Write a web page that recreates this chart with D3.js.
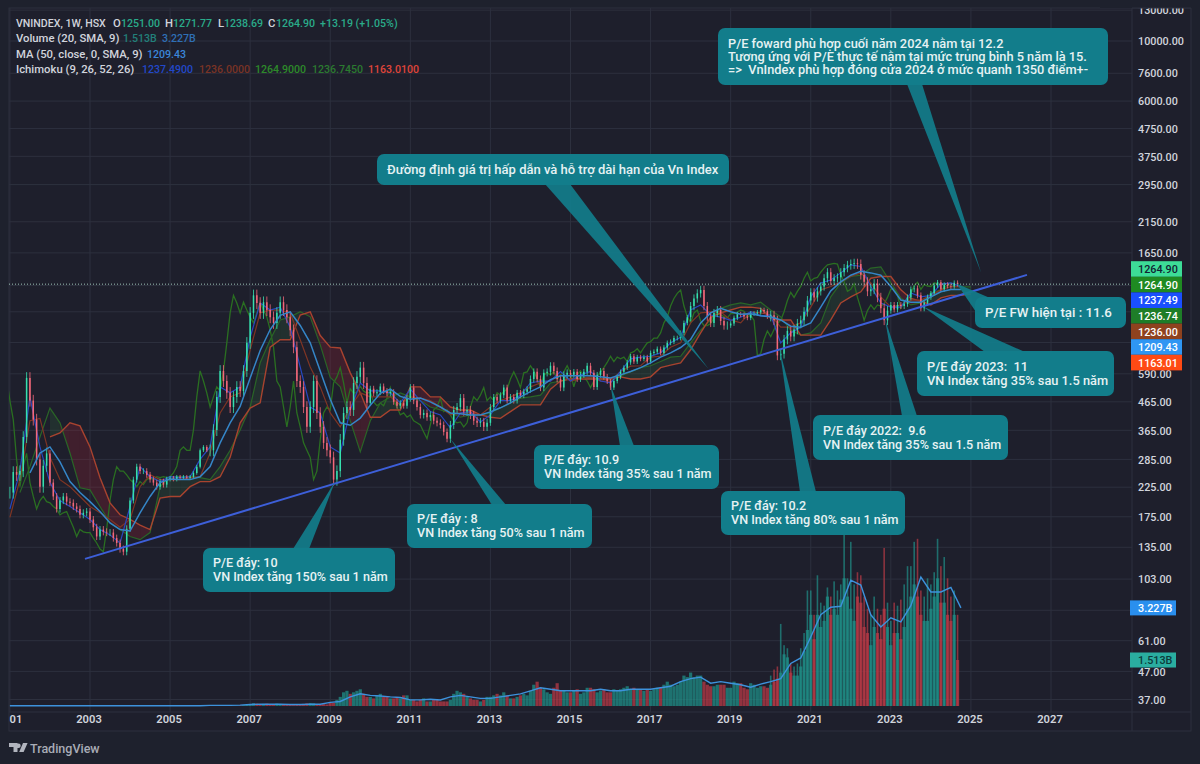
<!DOCTYPE html>
<html><head><meta charset="utf-8">
<script src="https://cdn.jsdelivr.net/npm/d3@7"></script>
<style>
html,body{margin:0;padding:0;background:#1e212d;overflow:hidden}
text{font-family:Roboto,"Noto Sans",sans-serif}
</style></head>
<body><svg id="c" width="1200" height="764"></svg>
<script>
// ---- data ----
const priceTicks=[13000,10000,7600,6000,4750,3750,2950,2150,1650,1250,1000,770,590,465,365,285,225,175,135,103,79,61,47,37];
const coveredTicks=[1250,1000,770,79]; // gridlines only: their labels sit behind the price tags
const yearTicks=[2001,2003,2005,2007,2009,2011,2013,2015,2017,2019,2021,2023,2025,2027];
const closeStart=2001;   // monthly closes from Jan 2001
const closes=[
215,256,250,258,345,570,470,400,285,226,270,300,
234,208,187,201,208,199,197,191,187,178,181,183,
171,160,148,157,154,153,153,146,140,133,130,158,
201,240,268,258,258,250,240,234,226,236,230,240,
244,240,246,244,246,244,246,254,268,308,317,308,
308,366,485,605,555,502,445,485,528,510,605,768,
991,1150,1078,991,1085,1015,955,910,991,1085,1015,955,
855,740,555,528,445,376,445,555,423,376,328,308,
290,240,258,337,423,445,434,546,575,622,546,461,
520,500,505,530,510,500,505,465,450,460,450,480,
525,470,445,416,423,408,416,396,389,382,360,340,
382,434,445,480,428,434,416,396,389,392,376,389,
445,485,470,492,525,470,485,470,502,492,507,518,
565,600,565,525,595,600,632,605,565,525,585,595,
585,600,565,585,600,632,595,528,585,605,575,555,
525,555,575,600,622,650,685,655,680,670,680,655,
705,712,730,705,738,768,775,800,800,836,910,955,
1050,1120,1170,1204,1050,960,910,990,1015,925,890,890,
905,950,980,975,960,950,985,985,995,1015,1005,960,
970,930,690,700,790,850,810,860,905,930,1000,1100,
1180,1130,1190,1240,1330,1400,1300,1330,1340,1400,1450,1490,
1500,1510,1500,1370,1290,1190,1210,1270,1130,1030,930,1010,
1060,1020,1060,1050,1070,1130,1210,1220,1150,1030,1080,1130,
1170,1250,1285,1210,1260,1245,1240,1280,1264.9];
// typical wick beyond the candle body, per year, as a share of price
const yearlyWick=[.05,.03,.03,.025,.015,.05,.05,.05,.05,.025,.03,.035,.025,.03,.025,.02,.02,.035,.02,.04,.035,.04,.025,.02];
const lagYears=0.5;
const quarterStart=2001; // all quarterly series share this origin
const conversion=[
187,258,485,317,234,201,191,181,171,157,150,140,191,268,246,236,246,244,246,285,317,528,502,528,805,1078,1015,1040,877,625,445,423,317,301,434,546,510,510,502,461,
518,470,428,416,373,423,428,392,416,470,470,492,546,555,555,602,555,585,602,555,546,602,670,680,685,705,768,805,1015,1060,973,955,930,955,
1000,966,973,768,836,877,1135,1278,1310,1392,1490,1470,1240,1078,1040,1040,1174,1135,1150,1265,1278,1237.49];
const base=[
174,240,396,404,290,240,226,208,191,181,171,160,171,226,250,240,240,240,244,246,301,423,485,502,724,991,1015,1015,991,788,625,528,423,376,445,502,485,485,485,453,
485,480,470,445,416,423,423,416,445,470,485,502,528,546,555,585,555,565,575,555,555,602,630,632,680,685,740,768,910,991,1000,1000,933,910,
1000,991,973,877,877,910,1040,1205,1240,1290,1350,1392,1278,1135,1040,1060,1105,1105,1150,1205,1240,1236];
const leadAStart=2001.25;
const leadA=[
215,268,345,441,389,301,224,220,191,166,157,148,144,153,226,246,246,246,244,240,268,308,366,445,648,788,933,958,1000,958,755,572,528,396,304,396,461,485,502,
485,470,445,434,423,408,416,416,423,442,461,480,485,492,546,555,565,570,570,565,565,580,600,622,632,655,680,685,768,855,933,1030,1060,1078,
1060,1085,1015,958,855,820,836,910,1135,1278,1350,1365,1450,1465,1278,1125,1060,1078,1174,1205,1278,1240,1236.745];
const leadBStart=2002;
const leadB=[
345,357,389,379,317,244,197,178,171,163,157,205,208,208,226,236,236,246,290,389,441,461,740,788,788,973,1000,817,740,735,595,502,408,408,434,434,
528,528,485,485,445,434,434,416,408,404,428,453,453,453,518,555,565,565,565,565,565,575,565,565,575,622,635,648,724,836,955,991,1015,1040,
1040,1030,945,933,933,820,820,820,933,1078,1135,1185,1330,1350,1350,1205,1120,1095,1060,1125,1150,1150,1163.01];
const maStart=2001.5;
const ma50=[
254,301,317,279,236,215,199,183,166,157,155,181,208,234,241,240,240,246,268,328,389,447,570,720,860,970,1000,890,768,605,475,389,381,405,452,500,518,487,
475,480,465,445,423,420,416,416,427,442,461,485,507,528,562,580,580,580,580,575,570,585,602,622,648,680,705,738,790,910,991,1030,1000,980,
983,966,958,933,885,877,910,1040,1195,1290,1365,1410,1392,1365,1240,1105,1085,1085,1135,1185,1209,1209.43];
const volumeMonthly=[
.003,.003,.003,.003,.004,.005,.004,.003,.003,.003,.003,.003,
.003,.003,.003,.003,.003,.003,.003,.003,.003,.003,.003,.003,
.003,.003,.003,.003,.003,.003,.003,.003,.003,.003,.003,.003,
.004,.004,.004,.004,.004,.004,.004,.004,.004,.004,.004,.004,
.005,.005,.005,.005,.005,.005,.005,.006,.006,.006,.006,.006,
.01,.015,.02,.03,.02,.015,.01,.01,.015,.02,.03,.04,
.06,.09,.08,.06,.07,.08,.06,.05,.08,.07,.06,.05,
.04,.03,.04,.05,.07,.09,.1,.09,.06,.05,.06,.05,
.1,.1,.2,.3,.45,.5,.4,.45,.5,.55,.4,.3,
.3,.25,.35,.4,.3,.3,.25,.25,.3,.25,.35,.35,
.2,.2,.15,.2,.25,.15,.15,.2,.2,.15,.15,.15,
.2,.4,.5,.45,.4,.3,.25,.2,.2,.15,.2,.3,
.3,.35,.4,.35,.45,.35,.25,.25,.3,.35,.4,.35,
.5,.7,.8,.6,.55,.45,.4,.6,.75,.5,.5,.45,
.45,.5,.55,.4,.45,.6,.6,.55,.45,.5,.55,.45,
.45,.55,.5,.55,.6,.65,.55,.6,.55,.55,.5,.55,
.5,.55,.6,.6,.7,.8,.7,.65,.7,.8,1.0,.95,
1.1,.95,1.0,1.0,.8,.7,.65,.65,.7,.7,.7,.6,
.6,.8,.75,.75,.6,.55,.75,.7,.6,.65,.65,.6,
.7,.8,.9,1.1,1.7,1.6,1.1,1.0,1.0,1.3,1.8,2.5,
3.0,2.2,3.0,2.6,2.8,3.6,3.0,3.2,3.0,3.5,4.2,3.6,
3.2,2.8,3.6,3.4,2.6,2.4,2.0,2.6,2.4,2.2,3.2,2.6,
2.0,2.4,2.4,2.2,2.6,3.2,3.6,4.0,3.6,3.0,2.8,2.8,
3.2,3.6,4.2,3.4,3.4,3.0,2.8,3.0,1.513];
const volumePeakStart=2020;
const volumePeak=[
1.0,1.2,1.3,2.7,2.0,1.9,1.4,1.3,1.4,1.9,2.4,3.8,
3.8,3.0,4.3,3.4,3.3,3.9,3.6,4.1,3.8,4.0,5.7,4.2,
5.4,4.0,4.4,4.3,3.6,3.2,3.0,3.6,3.2,3.0,5.2,3.4,
2.8,3.4,3.3,3.5,4.0,4.6,4.6,5.4,5.5,3.8,3.6,4.2,
4.0,4.4,5.5,4.6,4.9,4.2,3.6,3.8,3.0];
const volumeMA=[
.01,.01,.01,.01,.01,.01,.01,.01,.01,.01,.01,.01,.01,.01,.01,.01,.01,.01,.01,.01,.02,.02,.02,.03,
.05,.06,.06,.06,.05,.05,.06,.06,.12,.15,.3,.4,.35,.33,.3,.28,
.2,.2,.22,.2,.3,.35,.3,.25,.25,.3,.35,.4,.5,.6,.55,.5,.5,.5,.5,.55,.5,.5,.55,.55,.55,.6,.65,.8,.9,.95,.75,.8,
.75,.7,.62,.72,.8,.9,1.4,1.58,2.27,3.0,3.25,3.28,4.14,3.98,3.0,2.6,2.9,2.77,3.3,4.24,3.75,3.75,3.9,3.227];
const trendYears=[2002.875,2026.4];
const trendValues=[122.3,1368.5];
const lastClose=1264.9;
const priceTagLabels=["1264.90","1264.90","1237.49","1236.74","1236.00","1209.43","1163.01"];
const volumeTags=[{v:3.227,label:"3.227B"},{v:1.513,label:"1.513B"}];
const callouts=[
 {tipY:2009.12,tipV:236,fs:12.6,lines:["P/E đáy: 10","VN Index tăng 150% sau 1 năm"],box:[203,548,192,44],base:[[293,549],[309,549]]},
 {tipY:2012.0,tipV:340,fs:12.6,lines:["P/E đáy : 8","VN Index tăng 50% sau 1 năm"],box:[407,504,185,44],base:[[492,505],[506,505]]},
 {tipY:2016.0,tipV:535,fs:12.6,lines:["P/E đáy: 10.9","VN Index tăng 35% sau 1 năm"],box:[534,445,185,44],base:[[620,446],[634,446]]},
 {tipY:2020.22,tipV:730,fs:12.6,lines:["P/E đáy: 10.2","VN Index tăng 80% sau 1 năm"],box:[721,491,184,44],base:[[800,492],[816,492]]},
 {tipY:2022.85,tipV:945,fs:12.6,lines:["P/E đáy 2022:  9.6","VN Index tăng 35% sau 1.5 năm"],box:[813,415,195,45],base:[[902,416],[917,416]]},
 {tipY:2023.8,tipV:1045,fs:12.8,lines:["P/E đáy 2023:  11","VN Index tăng 35% sau 1.5 năm"],box:[917,351,197,45],base:[[985,352],[1025,352]]},
 {tipY:2024.65,tipV:1270,fs:13.3,lines:["P/E FW hiện tại : 11.6"],box:[975,297,151,31],base:[[976,312],[990,298]]},
 {tipY:2018.45,tipV:615,fs:13,lines:["Đường định giá trị hấp dẫn và hỗ trợ dài hạn của Vn Index"],box:[377,154,352,31],base:[[545,184],[570,184]]},
 {tipY:2025.25,tipV:1400,fs:12.8,lines:["P/E foward phù hợp cuối năm 2024 nằm tại 12.2","Tương ứng với P/E thực tế nằm tại mức trung bình 5 năm là 15.","=>  VnIndex phù hợp đóng cửa 2024 ở mức quanh 1350 điểm+-"],box:[718,28,390,57],base:[[907,84],[922,84]]}
];
// ---- scales ----
const x=d3.scaleLinear().domain([2003,2027]).range([90,1051]);
const y=d3.scaleLog().domain([37,10000]).range([699.5,41]);
const vol=d3.scaleLinear().domain([0,5]).range([706,554]);
const svg=d3.select("#c");
const BG="#1e1f2c",GRID="#2d303e",TXT="#d1d4dc";
svg.append("rect").attr("width",1200).attr("height",764).attr("fill","#1e212d");
svg.append("rect").attr("x",9).attr("y",8).attr("width",1182).attr("height",723).attr("fill",BG).attr("stroke",GRID);
svg.append("line").attr("x1",1132).attr("x2",1132).attr("y1",8).attr("y2",731).attr("stroke",GRID);
svg.append("line").attr("x1",9).attr("x2",1191).attr("y1",712).attr("y2",712).attr("stroke",GRID);
svg.append("clipPath").attr("id","pane").append("rect").attr("x",9).attr("y",8).attr("width",1123).attr("height",704);
// grid
const g=svg.append("g");
g.selectAll(".h").data(priceTicks).join("line").attr("x1",9).attr("x2",1132).attr("y1",d=>y(d)).attr("y2",d=>y(d)).attr("stroke",GRID);
g.selectAll(".v").data(yearTicks).join("line").attr("x1",d=>x(d)).attr("x2",d=>x(d)).attr("y1",8).attr("y2",712).attr("stroke",GRID);
const pane=svg.append("g").attr("clip-path","url(#pane)");
const mT=i=>closeStart+i/12;
const qT=(s,i)=>s+i*0.25;
// volume
const up=i=>i===0||closes[i]>=closes[i-1];
const volCol=i=>up(i)?"#1f8f87":"#b83a46";
pane.append("g").selectAll("rect").data(volumePeak).join("rect")
 .attr("x",(d,i)=>x(volumePeakStart+i/12)-.8).attr("width",1.6)
 .attr("y",d=>vol(d)).attr("height",d=>vol(0)-vol(d))
 .attr("fill",(d,i)=>volCol(Math.round((volumePeakStart-closeStart)*12)+i)).attr("opacity",.7);
pane.append("g").selectAll("rect").data(volumeMonthly).join("rect")
 .attr("x",(d,i)=>x(mT(i))-1.6).attr("width",3.2)
 .attr("y",d=>vol(d)).attr("height",d=>vol(0)-vol(d))
 .attr("fill",(d,i)=>volCol(i)).attr("opacity",.75);
// cloud
const area2=d3.area().x(d=>x(d.t)).y0(d=>y(d.a)).y1(d=>y(d.b));
const cloud=[];
leadB.forEach((b,i)=>{const t=qT(leadBStart,i),ia=Math.round((t-leadAStart)/.25);if(ia>=0&&ia<leadA.length)cloud.push({t,a:leadA[ia],b});});
for(let i=0;i<cloud.length-1;i++){
 const p=cloud[i],q=cloud[i+1];
 pane.append("path").attr("d",area2([p,q])).attr("fill",(p.a+q.a)>=(p.b+q.b)?"rgba(60,150,70,.15)":"rgba(200,35,50,.2)");
}
const line=(ax,ay)=>d3.line().x(ax).y(ay);
const drawQ=(arr,start,col,w,op)=>pane.append("path").datum(arr)
 .attr("d",line((d,i)=>x(qT(start,i)),d=>y(d))).attr("fill","none").attr("stroke",col).attr("stroke-width",w).attr("opacity",op||1);
// lagging span: the closes drawn half a year back
pane.append("path").datum(closes).attr("d",line((d,i)=>x(mT(i)-lagYears),d=>y(d)))
 .attr("fill","none").attr("stroke","#2a6f21").attr("stroke-width",1.3);
drawQ(leadA,leadAStart,"#2a6527",1.2);
drawQ(leadB,leadBStart,"#a8432f",1.4);
drawQ(base,quarterStart,"#7f3524",1.2);
drawQ(conversion,quarterStart,"#2747c0",1.2);
// candles: a wick and a body
const wickOf=i=>yearlyWick[Math.floor(i/12)];
const candles=pane.append("g");
candles.selectAll("line.w").data(closes).join("line").attr("class","w")
 .attr("x1",(d,i)=>x(mT(i))).attr("x2",(d,i)=>x(mT(i)))
 .attr("y1",(d,i)=>y(Math.max(d,i?closes[i-1]:d)*(1+wickOf(i)))).attr("y2",(d,i)=>y(Math.min(d,i?closes[i-1]:d)*(1-wickOf(i))))
 .attr("stroke",(d,i)=>up(i)?"#35e0ae":"#f4687a").attr("stroke-width",.8);
candles.selectAll("line.b").data(closes).join("line").attr("class","b")
 .attr("x1",(d,i)=>x(mT(i))).attr("x2",(d,i)=>x(mT(i)))
 .attr("y1",(d,i)=>y(i?closes[i-1]:d)).attr("y2",d=>y(d))
 .attr("stroke",(d,i)=>up(i)?"#35e0ae":"#f4687a").attr("stroke-width",1.5);
drawQ(ma50,maStart,"#3586c8",1.5);
// volume average, on the volume scale
pane.append("path").datum(volumeMA).attr("d",line((d,i)=>x(qT(quarterStart,i)),d=>vol(d)))
 .attr("fill","none").attr("stroke","#3d92dc").attr("stroke-width",1.4);
// last price
pane.append("line").attr("x1",9).attr("x2",1132).attr("y1",y(lastClose)).attr("y2",y(lastClose))
 .attr("stroke","#9fc4b8").attr("stroke-dasharray","1 2");
// trend line
pane.append("path").datum(trendYears.map((t,i)=>[t,trendValues[i]]))
 .attr("d",line(d=>x(d[0]),d=>y(d[1]))).attr("stroke","#3d5fd9").attr("stroke-width",2).attr("fill","none");
// callouts
const CALL="#127d8b";
callouts.forEach(c=>{
 const G=svg.append("g"),[bx,by,bw,bh]=c.box;
 G.append("path").attr("d",d3.line()([[x(c.tipY),y(c.tipV)],...c.base])+"Z").attr("fill",CALL).attr("opacity",.92);
 G.append("rect").attr("x",bx).attr("y",by).attr("width",bw).attr("height",bh).attr("rx",7).attr("fill",CALL);
 const lh=c.lines.length===3?12.6:14;
 const total=lh*(c.lines.length-1);
 c.lines.forEach((t,i)=>G.append("text").style("white-space","pre")
   .attr("x",bx+10).attr("y",by+bh/2-total/2+i*lh+4.4).attr("font-size",c.fs).attr("font-weight",500).attr("fill","#e6f2f3").text(t));
});
// price axis labels
svg.append("g").selectAll("text").data(priceTicks.filter(d=>!coveredTicks.includes(d))).join("text")
 .attr("x",1138).attr("y",d=>y(d)+4.2).attr("font-size",10.8).attr("font-weight",500).attr("fill",TXT)
 .text(d=>d3.format(".2f")(d));
svg.append("rect").attr("x",1100).attr("y",0).attr("width",100).attr("height",8).attr("fill","#1e212d");
svg.append("line").attr("x1",1132).attr("x2",1191).attr("y1",8).attr("y2",8).attr("stroke",GRID);
// stacked price tags
const tagFill=["#3ddc97","#1f8a22","#1a4fff","#1e7d28","#8f421e","#2f96f3","#ff4a14"];
const tagText=["#123","#fff","#fff","#fff","#fff","#fff","#fff"];
priceTagLabels.forEach((l,i)=>{
 const cy=269+15.6*i;
 svg.append("rect").attr("x",1131).attr("y",cy-7.8).attr("width",51).attr("height",15.6).attr("fill",tagFill[i]);
 svg.append("text").attr("x",1138).attr("y",cy+4.2).attr("font-size",10.8).attr("font-weight",500).attr("fill",tagText[i]).text(l);
});
// volume tags
volumeTags.forEach((t,i)=>{
 const cy=vol(t.v);
 svg.append("rect").attr("x",1130).attr("y",cy-7.5).attr("width",46).attr("height",15).attr("fill",i?"#2aaea0":"#2a8fee");
 svg.append("text").attr("x",1138).attr("y",cy+4).attr("font-size",10.8).attr("font-weight",500).attr("fill",i?"#0d3b3a":"#fff").text(t.label);
});
// time axis
const tx=svg.append("g");
yearTicks.forEach(d=>{
 const t=tx.append("text").attr("y",723).attr("font-size",11.2).attr("font-weight",600).attr("fill",TXT);
 if(d===2001)t.attr("x",9.5).text("01");
 else t.attr("x",x(d)-1).attr("text-anchor","middle").text(d);
});
// legend: each piece placed where the reference has it
const G1="#2aab8a";
const rows=[
 [["VNINDEX, 1W, HSX",TXT,16,10.6],["O",TXT,113],["1251.00",G1,121],["H",TXT,165],["1271.77",G1,173],["L",TXT,218],["1238.69",G1,224],["C",TXT,268],["1264.90",G1,276],["+13.19 (+1.05%)",G1,320]],
 [["Volume (20, SMA, 9)",TXT,16],["1.513B","#22807a",123],["3.227B","#2f6fb5",162]],
 [["MA (50, close, 0, SMA, 9)",TXT,16],["1209.43","#3a86d8",147]],
 [["Ichimoku (9, 26, 52, 26)",TXT,16],["1237.4900","#2248c9",142],["1236.0000","#7a3325",199],["1264.9000","#2d8a2a",255],["1236.7450","#2b7a30",312],["1163.0100","#e0453a",368]]
];
rows.forEach((r,i)=>{
 r.forEach(s=>{
  const isLabel=s[1]===TXT;
  svg.append("text").attr("x",s[2]).attr("y",27+15.3*i).attr("font-size",s[3]||(isLabel?11.3:10.6)).attr("font-weight",500).attr("fill",s[1]).text(s[0]);
 });
});
// footer
svg.append("path").attr("d","M9 743h8.5v9h-4v-5H9zM18.5 743.5a2.2 2.2 0 1 1 0 4.4a2.2 2.2 0 1 1 0-4.4zM23 743h4.6l-4 9h-4.4z").attr("fill","#b2b5be");
svg.append("text").attr("x",30).attr("y",752.5).attr("font-size",12.5).attr("font-weight",500).attr("fill","#a9acb6").text("TradingView");
</script></body></html>
